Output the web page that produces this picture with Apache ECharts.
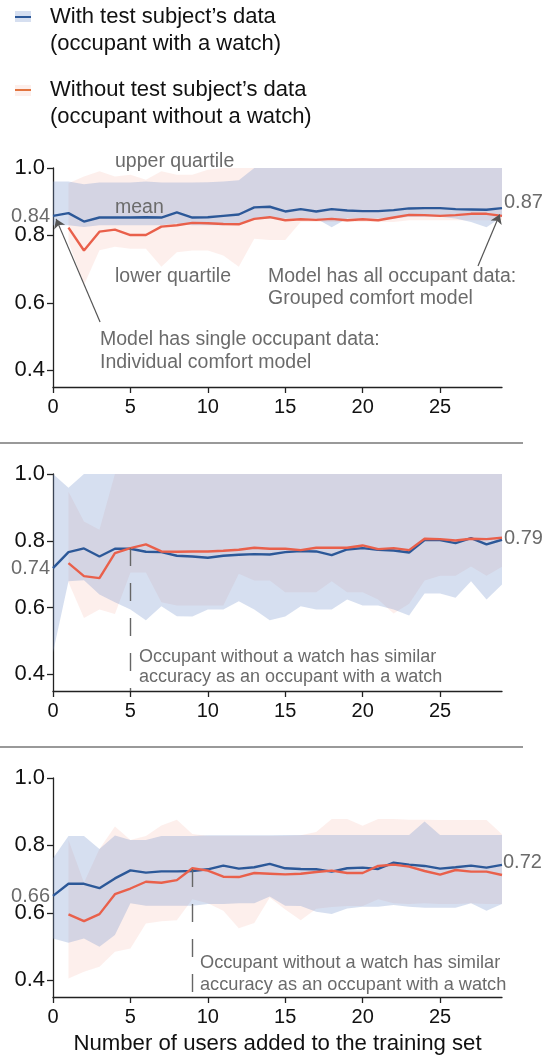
<!DOCTYPE html>
<html>
<head>
<meta charset="utf-8">
<script src="https://cdn.jsdelivr.net/npm/echarts@6/dist/echarts.min.js"></script>
<style>
  html, body { margin: 0; padding: 0; background: #fff; }
  #chart { width: 560px; height: 1057px; }
</style>
</head>
<body>
<div id="chart"></div>
<script>
// ── data ────────────────────────────────────────────────
const xUsers  = Array.from({ length: 30 }, (_, i) => i)
const xRed    = xUsers.slice(1)              // red series start at 1 user
const xTicks  = [0, 5, 10, 15, 20, 25]
const yTicks  = [0.4, 0.6, 0.8, 1.0]

// panel 1
const p1BlueMean  = [0.858,0.866,0.841,0.853,0.853,0.853,0.854,0.853,0.868,0.853,0.854,0.858,0.862,0.883,0.885,0.871,0.878,0.871,0.878,0.874,0.872,0.872,0.875,0.880,0.881,0.881,0.878,0.877,0.876,0.881]
const p1BlueUpper = [0.960,0.960,0.952,0.957,0.957,0.957,0.960,0.957,0.957,0.957,0.958,0.960,0.964,1,1,1,1,1,1,1,1,1,1,1,1,1,1,1,1,1]
const p1BlueLower = [0.830,0.830,0.825,0.830,0.830,0.830,0.830,0.830,0.835,0.830,0.830,0.830,0.835,0.850,0.850,0.850,0.850,0.850,0.824,0.850,0.850,0.850,0.850,0.855,0.855,0.855,0.850,0.840,0.824,0.855]
const p1RedMean   = [0.823,0.755,0.811,0.817,0.801,0.801,0.826,0.830,0.837,0.836,0.834,0.833,0.849,0.854,0.845,0.848,0.846,0.849,0.845,0.848,0.845,0.853,0.861,0.860,0.858,0.860,0.864,0.864,0.858]
const p1RedUpper  = [0.955,0.975,0.990,0.975,0.980,0.965,0.990,0.980,0.980,0.995,1,1,1,1,1,1,1,1,1,1,1,1,1,1,1,1,1,1,1]
const p1RedLower  = [0.780,0.653,0.756,0.766,0.760,0.760,0.707,0.750,0.755,0.755,0.740,0.707,0.790,0.786,0.786,0.840,0.840,0.840,0.840,0.840,0.840,0.840,0.845,0.845,0.845,0.845,0.845,0.845,0.845]

// panel 2
const p2BlueMean  = [0.718,0.766,0.777,0.753,0.776,0.776,0.767,0.766,0.755,0.753,0.749,0.755,0.758,0.760,0.759,0.766,0.769,0.768,0.757,0.774,0.778,0.773,0.771,0.765,0.802,0.802,0.793,0.808,0.789,0.803]
const p2BlueUpper = [1,0.959,1,1,1,1,1,1,1,1,1,1,1,1,1,1,1,1,1,1,1,1,1,1,1,1,1,1,1,1]
const p2BlueLower = [0.465,0.679,0.682,0.639,0.616,0.594,0.562,0.604,0.574,0.573,0.594,0.594,0.619,0.594,0.562,0.573,0.604,0.594,0.594,0.624,0.606,0.606,0.594,0.576,0.642,0.642,0.629,0.679,0.624,0.669]
const p2RedMean   = [0.733,0.694,0.688,0.763,0.778,0.789,0.768,0.767,0.768,0.768,0.770,0.773,0.779,0.776,0.776,0.772,0.779,0.779,0.779,0.786,0.775,0.778,0.772,0.806,0.805,0.801,0.806,0.805,0.809]
const p2RedUpper  = [0.947,0.858,0.833,1,1,1,1,1,1,1,1,1,1,1,1,1,1,1,1,1,1,1,1,1,1,1,1,1,1]
const p2RedLower  = [0.676,0.569,0.594,0.581,0.705,0.705,0.616,0.606,0.606,0.606,0.606,0.701,0.681,0.681,0.646,0.646,0.646,0.679,0.646,0.646,0.624,0.582,0.611,0.681,0.695,0.695,0.723,0.695,0.722]

// panel 3
const p3BlueMean  = [0.650,0.686,0.686,0.673,0.702,0.726,0.719,0.723,0.723,0.724,0.729,0.740,0.731,0.735,0.745,0.732,0.730,0.729,0.722,0.732,0.734,0.730,0.749,0.743,0.739,0.731,0.735,0.740,0.734,0.742]
const p3BlueUpper = [0.762,0.828,0.828,0.789,0.829,0.816,0.816,0.828,0.828,0.828,0.830,0.830,0.830,0.830,0.830,0.831,0.831,0.831,0.831,0.831,0.831,0.831,0.831,0.831,0.871,0.831,0.831,0.831,0.831,0.831]
const p3BlueLower = [0.524,0.511,0.524,0.499,0.534,0.628,0.621,0.621,0.621,0.621,0.626,0.626,0.628,0.628,0.648,0.621,0.620,0.603,0.596,0.613,0.618,0.618,0.623,0.618,0.615,0.615,0.615,0.628,0.606,0.626]
const p3RedMean   = [0.595,0.575,0.596,0.655,0.672,0.692,0.689,0.697,0.732,0.725,0.707,0.706,0.718,0.716,0.714,0.716,0.721,0.725,0.718,0.718,0.739,0.743,0.737,0.724,0.713,0.727,0.722,0.722,0.712]
const p3RedUpper  = [0.816,0.689,0.789,0.856,0.816,0.828,0.859,0.876,0.834,0.828,0.828,0.828,0.828,0.828,0.828,0.830,0.840,0.878,0.878,0.858,0.878,0.878,0.876,0.876,0.875,0.875,0.875,0.875,0.833]
const p3RedLower  = [0.405,0.425,0.440,0.484,0.494,0.568,0.575,0.578,0.640,0.628,0.606,0.554,0.570,0.645,0.610,0.578,0.612,0.617,0.620,0.620,0.640,0.628,0.626,0.628,0.626,0.626,0.628,0.626,0.626]

// ── style ───────────────────────────────────────────────
const FONT       = '"Liberation Sans", Arial, Helvetica, sans-serif'
const COLOR_BLUE = '#2c5898'
const COLOR_RED  = '#e9604b'
const BAND_BLUE  = 'rgba(120,150,205,0.30)'
const BAND_RED   = 'rgba(240,150,130,0.15)'
const GRAY       = '#6b6b6b'
const AXIS       = '#222'

const GRID_TOPS    = [168, 474, 778]
const GRID_HEIGHTS = [219, 217, 219]

const panels = [
  { blue: [p1BlueMean, p1BlueLower, p1BlueUpper], red: [p1RedMean, p1RedLower, p1RedUpper] },
  { blue: [p2BlueMean, p2BlueLower, p2BlueUpper], red: [p2RedMean, p2RedLower, p2RedUpper] },
  { blue: [p3BlueMean, p3BlueLower, p3BlueUpper], red: [p3RedMean, p3RedLower, p3RedUpper] },
]

const pairs = (xs, ys) => xs.map((x, i) => [x, ys[i]])

// quartile band: one polygon per series, built through the axis scale (api.coord)
function band(xs, lo, up, color, gi) {
  return {
    type: 'custom', xAxisIndex: gi, yAxisIndex: gi, silent: true, z: 1,
    data: xs.map((x, i) => [x, lo[i], up[i]]),
    encode: { x: 0, y: [1, 2] },
    renderItem(params, api) {
      if (params.dataIndex !== 0) return
      const top = xs.map((x, i) => api.coord([x, up[i]]))
      const bot = xs.map((x, i) => api.coord([x, lo[i]])).reverse()
      return { type: 'polygon', shape: { points: top.concat(bot) }, style: { fill: color } }
    },
  }
}

function meanLine(xs, ys, color, gi, extra) {
  return { type: 'line', xAxisIndex: gi, yAxisIndex: gi, data: pairs(xs, ys),
    symbol: 'none', lineStyle: { color, width: 2.4 }, z: 3, silent: true, ...extra }
}

const dashed  = { color: '#666', width: 1.4, type: [18, 17] }
const arrowLn = { color: '#555', width: 1.2, type: 'solid' }

// annotation lines, in data units of their panel
const markLines = [
  [
    [{ coord: [3.04, 0.543], symbol: 'none', lineStyle: arrowLn }, { coord: [0.2, 0.849], symbol: 'arrow' }],
    [{ coord: [27.45, 0.709], symbol: 'none', lineStyle: arrowLn }, { coord: [28.85, 0.862], symbol: 'arrow' }],
  ],
  [ [{ coord: [5, 0.778], symbol: 'none', lineStyle: dashed }, { coord: [5, 0.35], symbol: 'none' }] ],
  [ [{ coord: [9, 0.73], symbol: 'none', lineStyle: dashed }, { coord: [9, 0.35], symbol: 'none' }] ],
]

const series = []
panels.forEach((p, gi) => {
  series.push(band(xRed,   p.red[1],  p.red[2],  BAND_RED,  gi))
  series.push(band(xUsers, p.blue[1], p.blue[2], BAND_BLUE, gi))
  series.push(meanLine(xUsers, p.blue[0], COLOR_BLUE, gi, {
    markLine: { silent: true, animation: false, symbolSize: 9, label: { show: false },
      data: markLines[gi] },
  }))
  series.push(meanLine(xRed, p.red[0], COLOR_RED, gi))
})

const grid = GRID_TOPS.map((top, i) => ({ left: 53, width: 449, top, height: GRID_HEIGHTS[i] }))

const xAxis = GRID_TOPS.map((_, gi) => ({
  type: 'value', gridIndex: gi, min: 0, max: 29,
  axisLine:  { show: true, onZero: false, lineStyle: { color: AXIS, width: 1.3 } },
  axisTick:  { show: true, length: 6, customValues: xTicks, lineStyle: { color: AXIS, width: 1.3 } },
  axisLabel: { customValues: xTicks, color: '#111', fontSize: 20, margin: 10, fontFamily: FONT },
  splitLine: { show: false },
  ...(gi === 2 ? { name: 'Number of users added to the training set', nameLocation: 'middle', nameGap: 36,
    nameTextStyle: { color: '#111', fontSize: 22.2, fontFamily: FONT } } : {}),
}))

const yAxis = GRID_TOPS.map((_, gi) => ({
  type: 'value', gridIndex: gi, min: 0.35, max: 1.0,
  axisLine:  { show: true, lineStyle: { color: AXIS, width: 1.3 } },
  axisTick:  { show: true, length: 6, customValues: yTicks, lineStyle: { color: AXIS, width: 1.3 } },
  axisLabel: { customValues: yTicks, formatter: v => v.toFixed(1), color: '#111', fontSize: 22, margin: 8, fontFamily: FONT },
  splitLine: { show: false },
}))

// ── texts ───────────────────────────────────────────────
const txt = (x, y, text, o = {}) => ({
  type: 'text', x, y, silent: true, z: 10,
  style: { text, fill: o.fill || GRAY, fontSize: o.size || 18, fontFamily: FONT,
    align: o.align || 'left', verticalAlign: 'middle' },
})

const graphic = [
  // legend
  { type: 'rect', shape: { x: 15, y: 11, width: 16, height: 11 }, style: { fill: BAND_BLUE } },
  { type: 'line', shape: { x1: 15, y1: 17, x2: 31, y2: 17 }, style: { stroke: COLOR_BLUE, lineWidth: 2 } },
  txt(50, 17, 'With test subject’s data', { fill: '#111', size: 22 }),
  txt(50, 44, '(occupant with a watch)', { fill: '#111', size: 22 }),
  { type: 'rect', shape: { x: 15, y: 85, width: 16, height: 11 }, style: { fill: BAND_RED } },
  { type: 'line', shape: { x1: 15, y1: 90, x2: 31, y2: 90 }, style: { stroke: '#e2743f', lineWidth: 2 } },
  txt(50, 90, 'Without test subject’s data', { fill: '#111', size: 22 }),
  txt(50, 117, '(occupant without a watch)', { fill: '#111', size: 22 }),

  // separators
  { type: 'line', shape: { x1: 0, y1: 443, x2: 523, y2: 443 }, style: { stroke: '#777', lineWidth: 1.4 } },
  { type: 'line', shape: { x1: 0, y1: 747, x2: 523, y2: 747 }, style: { stroke: '#777', lineWidth: 1.4 } },

  // panel 1
  txt(50, 216, '0.84', { align: 'right', size: 20 }),
  txt(504, 202, '0.87', { size: 20 }),
  txt(115, 162, 'upper quartile', { size: 19.5 }),
  txt(115, 208, 'mean', { size: 19.5 }),
  txt(115, 277, 'lower quartile', { size: 19.5 }),
  txt(268, 277, 'Model has all occupant data:', { size: 19.5 }),
  txt(268, 299, 'Grouped comfort model', { size: 19.5 }),
  txt(100, 340, 'Model has single occupant data:', { size: 19.5 }),
  txt(100, 363, 'Individual comfort model', { size: 19.5 }),

  // panel 2
  txt(50, 568, '0.74', { align: 'right', size: 20 }),
  txt(504, 538, '0.79', { size: 20 }),
  txt(139, 657, 'Occupant without a watch has similar'),
  txt(139, 677, 'accuracy as an occupant with a watch'),

  // panel 3
  txt(50, 896, '0.66', { align: 'right', size: 20 }),
  txt(503, 862, '0.72', { size: 20 }),
  txt(200, 963, 'Occupant without a watch has similar', { size: 18.2 }),
  txt(200, 985, 'accuracy as an occupant with a watch', { size: 18.2 }),
]

const chart = echarts.init(document.getElementById('chart'), null, { renderer: 'canvas' })
chart.setOption({
  animation: false,
  backgroundColor: '#fff',
  textStyle: { fontFamily: FONT },
  grid, xAxis, yAxis, series, graphic,
})
</script>
</body>
</html>
